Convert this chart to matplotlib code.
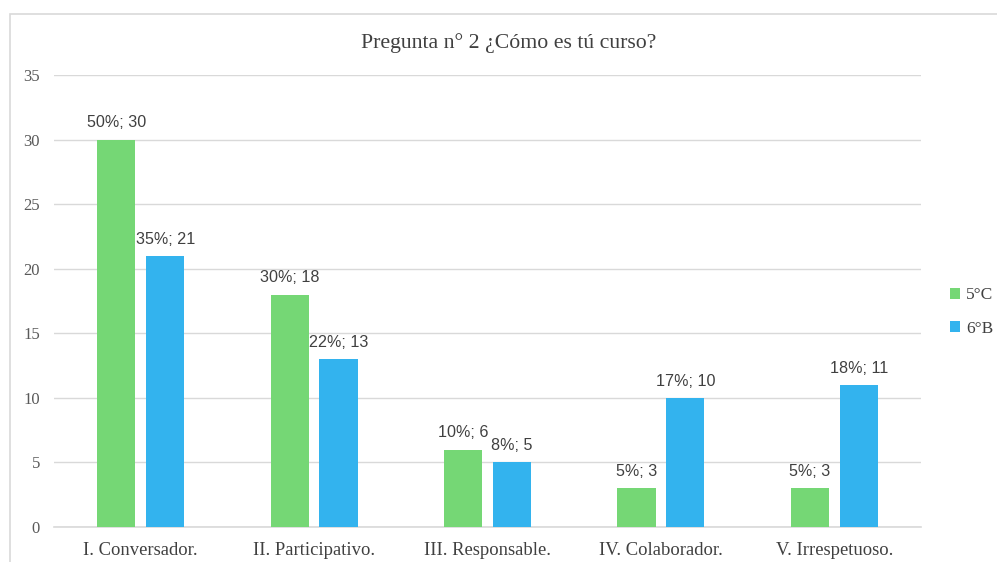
import matplotlib
matplotlib.use("Agg")
import matplotlib.pyplot as plt
import numpy as np
from matplotlib.patches import Rectangle

categories = ["I. Conversador.", "II. Participativo.", "III. Responsable.",
              "IV. Colaborador.", "V. Irrespetuoso."]
series_names = ["5°C", "6°B"]
values_5c = [30, 18, 6, 3, 3]
values_6b = [21, 13, 5, 10, 11]
pct_5c = ["50%", "30%", "10%", "5%", "5%"]
pct_6b = ["35%", "22%", "8%", "17%", "18%"]
yticks = [0, 5, 10, 15, 20, 25, 30, 35]
title = "Pregunta n° 2 ¿Cómo es tú curso?"

green = "#75D775"
blue = "#33B3EE"
serif = ["Liberation Serif", "DejaVu Serif"]
sans = ["Liberation Sans", "DejaVu Sans"]

fig = plt.figure(figsize=(9.97, 5.62), dpi=100)
fig.patch.set_facecolor("white")
# outer chart border
fig.add_artist(Rectangle((10/997, -0.1), 1.2, 1 - 14/562 + 0.1, transform=fig.transFigure,
                         fill=False, edgecolor="#d9d9d9", linewidth=1.2))

ax = fig.add_axes([54/997, 1 - 527/562, (921 - 54)/997, (527 - 75)/562])
x = np.arange(len(categories))
w = 0.22
off = 0.141
b1 = ax.bar(x - off, values_5c, w, color=green, label=series_names[0], zorder=3)
b2 = ax.bar(x + off, values_6b, w, color=blue, label=series_names[1], zorder=3)

for bars, vals, pcts in ((b1, values_5c, pct_5c), (b2, values_6b, pct_6b)):
    for r, v, p in zip(bars, vals, pcts):
        ax.annotate(f"{p}; {v}", (r.get_x() + r.get_width()/2, v),
                    xytext=(0, 12), textcoords="offset points",
                    ha="center", va="center", fontsize=11.6, color="#404040",
                    family=sans)

ax.set_xlim(-0.5, len(categories) - 0.5)
ax.set_ylim(0, 35)
ax.set_yticks(yticks)
ax.set_yticklabels([str(t) for t in yticks], family=serif, fontsize=12, color="#595959")
ax.set_xticks(x)
ax.set_xticklabels(categories, family=serif, fontsize=13.4, color="#404040")
ax.tick_params(axis="both", length=0)
ax.tick_params(axis="y", pad=10)
ax.tick_params(axis="x", pad=11)
ax.grid(axis="y", color="#d9d9d9", linewidth=1, zorder=0)
ax.axhline(0, color="#d9d9d9", linewidth=1.2, zorder=1, clip_on=False)
for s in ax.spines.values():
    s.set_visible(False)

fig.text(509/997, 1 - 43/562, title, ha="center", va="center",
         family=serif, fontsize=15.7, color="#404040")

leg = fig.legend(handles=[b1, b2], labels=series_names, loc="center left",
                 bbox_to_anchor=(934/997, 1 - 312/562), frameon=False,
                 prop={"family": serif, "size": 12.5}, handlelength=0.6,
                 handleheight=0.6, handletextpad=0.35, labelspacing=1.0)
for t in leg.get_texts():
    t.set_color("#404040")

fig.savefig("out.png", dpi=100, facecolor="white")
